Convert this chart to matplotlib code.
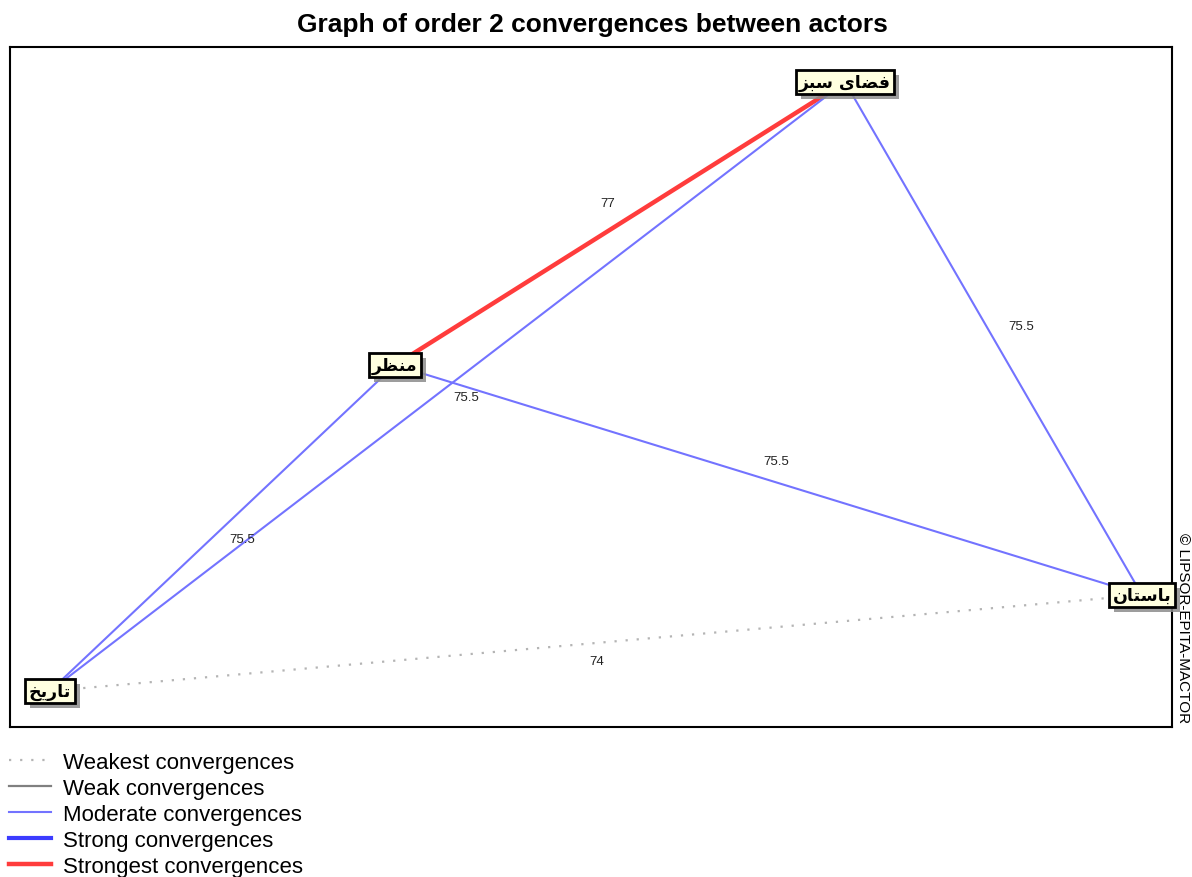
import matplotlib
matplotlib.use("Agg")
import matplotlib.pyplot as plt
from matplotlib.lines import Line2D
from matplotlib.patches import Rectangle
from matplotlib.transforms import IdentityTransform

# actors (Persian names written in presentation forms, visual order, so they show joined)
# فضای سبز / منظر / باستان / تاریخ
actors = ["\uFEB0\uFE92\uFEB3 \uFEEF\uFE8E\uFEC0\uFED3",
          "\uFEAE\uFEC8\uFEE8\uFEE3",
          "\uFEE5\uFE8E\uFE98\uFEB3\uFE8E\uFE91",
          "\uFEA6\uFEF3\uFEAD\uFE8E\uFE97"]
actor_x = [845, 395, 1142, 50]
actor_y = [83, 366, 596, 692]

# convergences between actors
src = [1, 0, 3, 1, 3, 3]
dst = [0, 2, 0, 2, 1, 2]
values = [77, 75.5, 75.5, 75.5, 75.5, 74]
level = ["strongest", "moderate", "moderate", "moderate", "moderate", "weakest"]
lab_dx = [-12, 28, 19, 8, 20, 1]
lab_dy = [-20, -12, 11, -19, 11, 18]

levels = ["weakest", "weak", "moderate", "strong", "strongest"]
legend_labels = ["Weakest convergences", "Weak convergences", "Moderate convergences",
                 "Strong convergences", "Strongest convergences"]
styles = {
    "weakest": dict(color="#b4b4b4", lw=1.6, ls=(0, (1, 4))),
    "weak": dict(color="#808080", lw=1.6, ls="-"),
    "moderate": dict(color="#7373ff", lw=1.5, ls="-"),
    "strong": dict(color="#3c3cff", lw=3.0, ls="-"),
    "strongest": dict(color="#ff3c3c", lw=3.2, ls="-"),
}

fig = plt.figure(figsize=(11.92, 8.78), dpi=100)
ax = fig.add_axes([10 / 1192, 1 - 728 / 878, 1162 / 1192, 680 / 878])
ax.set_xlim(10, 1172)
ax.set_ylim(728, 48)
ax.set_xticks([])
ax.set_yticks([])
for s in ax.spines.values():
    s.set_linewidth(1.5)

for i in range(len(src)):
    a, b = src[i], dst[i]
    st = styles[level[i]]
    ax.plot([actor_x[a], actor_x[b]], [actor_y[a], actor_y[b]], color=st["color"],
            lw=st["lw"], linestyle=st["ls"], zorder=1)
    mx = (actor_x[a] + actor_x[b]) / 2 + lab_dx[i]
    my = (actor_y[a] + actor_y[b]) / 2 + lab_dy[i]
    ax.text(mx, my, f"{values[i]:g}", fontsize=9.5, ha="center", va="center",
            color="#222222", family="Liberation Sans", zorder=2)

boxes = []
for name, x, y in zip(actors, actor_x, actor_y):
    t = ax.text(x, y, name, fontsize=12.5, fontweight="bold", ha="center", va="center",
                color="black", family="DejaVu Sans",
                bbox=dict(boxstyle="square,pad=0.2", fc="#ffffe0", ec="black", lw=2),
                zorder=4)
    boxes.append(t)

# drop shadows behind the actor boxes
fig.canvas.draw()
for t in boxes:
    bb = t.get_bbox_patch().get_window_extent()
    sh = Rectangle((bb.x0 + 5, bb.y0 - 5), bb.width, bb.height,
                   transform=IdentityTransform(), fc="#8c8c8c", ec="none",
                   alpha=0.85, zorder=3, clip_on=False)
    ax.add_artist(sh)

fig.text(592 / 1192, 1 - 25 / 878, "Graph of order 2 convergences between actors",
         ha="center", va="center", fontsize=19, fontweight="bold",
         family=["Liberation Sans Narrow", "Liberation Sans"])
fig.text(1183 / 1192, 1 - 628 / 878, "\u00a9 LIPSOR-EPITA-MACTOR", rotation=270,
         ha="center", va="center", fontsize=11, family="Liberation Sans")

handles = [Line2D([], [], color=styles[k]["color"], lw=styles[k]["lw"],
                  linestyle=styles[k]["ls"]) for k in levels]
fig.legend(handles, legend_labels, loc="upper left", bbox_to_anchor=(9 / 1192, 1 - 753 / 878),
           frameon=False, handlelength=1.9, handletextpad=0.55,
           labelspacing=0.22, borderpad=0.0, borderaxespad=0.0,
           prop={"family": "Liberation Sans", "size": 16})

fig.savefig("out.png", dpi=100)
